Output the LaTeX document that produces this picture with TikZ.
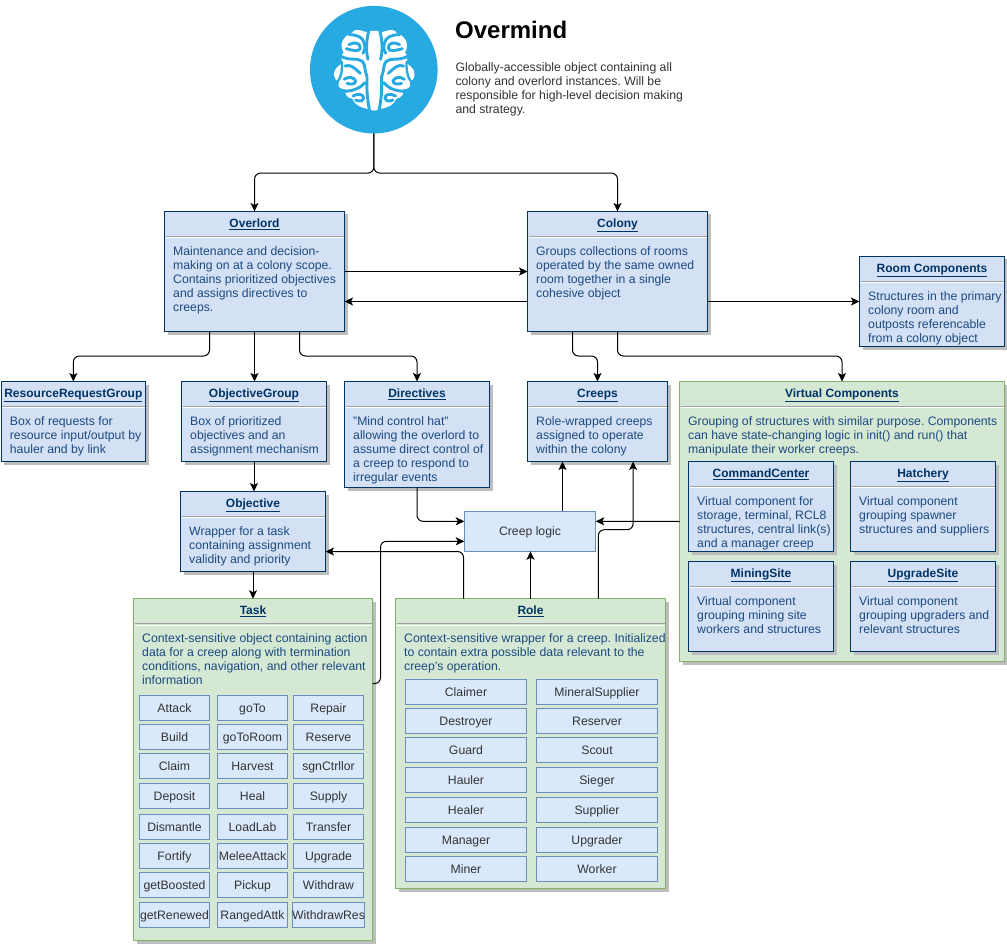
\documentclass[tikz,border=0pt]{standalone}
\usepackage{fontspec}
\setmainfont{Liberation Sans}[Ligatures=ResetAll]
\usetikzlibrary{arrows.meta,calc}
\definecolor{navy}{HTML}{003366}
\definecolor{bodyblue}{HTML}{1B4A80}
\definecolor{bluefill}{HTML}{D4E1F5}
\definecolor{greenfill}{HTML}{D5E8D4}
\definecolor{greenline}{HTML}{82B366}
\definecolor{chipfill}{HTML}{DAE8FC}
\definecolor{chipline}{HTML}{6C8EBF}
\definecolor{shadowgrey}{HTML}{BDBDBD}
\definecolor{seprule}{HTML}{A0A0A0}
\definecolor{ink}{HTML}{333333}
\definecolor{brainblue}{HTML}{27A9E1}
\newcommand{\basefont}{\fontsize{12.25}{14}\selectfont\frenchspacing}
\tikzset{
  bluecard/.style={draw=navy,fill=bluefill,line width=1pt},
  greencard/.style={draw=greenline,fill=greenfill,line width=1pt},
  cardtitle/.style={inner sep=0pt,text height=10pt,text depth=1.4pt,text=navy,font=\fontsize{12}{14}\selectfont\bfseries},
  cardbody/.style={inner sep=0pt,anchor=north west,align=left,text=bodyblue,font=\basefont},
  chipbox/.style={draw=chipline,fill=chipfill,line width=1pt,inner sep=0pt,minimum height=25.4pt,text height=10pt,text depth=1.4pt,text=ink,font=\basefont},
  conn/.style={draw=black,line width=1pt,rounded corners=6pt,-{Stealth[length=8.5pt,width=8pt,inset=2pt]}},
  brainline/.style={draw=brainblue,line width=2.9pt,line cap=round,line join=round},
}
% name, x1, y1, x2, y2, style, title, body
\newcommand{\card}[8]{%
  \fill[shadowgrey] ({#2+3},{#3+3}) rectangle ({#4+3},{#5+3});
  \node[#6,inner sep=0pt,outer sep=0pt,minimum width={(#4-#2)*1pt},minimum height={(#5-#3)*1pt}] (#1) at ({(#2+#4)/2},{(#3+#5)/2}) {};
  \node[cardtitle] (#1-title) at ({(#2+#4)/2},{#3+11.5}) {\underline{#7}};
  \draw[seprule,line width=1pt] ({#2+1},{#3+25.2}) -- ({#4-1},{#3+25.2});
  \draw[white,line width=0.8pt] ({#2+1},{#3+26.2}) -- ({#4-1},{#3+26.2});
  \node[cardbody] (#1-body) at ({#2+8.5},{#3+32.8}) {\rule{0pt}{11pt}#8};
}
% name, x centre, y centre, width, text
\newcommand{\chip}[5]{%
  \node[chipbox,minimum width={#4*1pt}] (#1) at (#2,#3) {#5};
}
\newcommand{\brainhalf}{%
  % silhouette of one half
  \fill[white] (152,33) -- (135,33) .. controls (125,42) and (118,30) .. (100,30)
     .. controls (90,30) and (84,34) .. (82,40)
     .. controls (70,42) and (54,56) .. (52,72)
     .. controls (52,84) and (54,92) .. (58,98)
     .. controls (50,104) and (48,118) .. (56,128)
     .. controls (50,134) and (46,136) .. (40,140)
     .. controls (28,150) and (26,168) .. (34,178)
     .. controls (38,184) and (42,184) .. (44,186)
     .. controls (38,198) and (46,208) .. (64,208)
     .. controls (60,222) and (68,234) .. (84,236)
     .. controls (90,254) and (110,264) .. (138,268)
     .. controls (142,273) and (148,273) .. (152,270) -- cycle;
  % channels
  \draw[brainline] (134,30) .. controls (126,60) and (124,90) .. (131,118);
  \draw[brainline] (74,44) .. controls (100,44) and (116,52) .. (120,70)
     .. controls (123,85) and (122,92) .. (116,100);
  \draw[brainline] (74,74) .. controls (88,66) and (108,66) .. (108,84)
     .. controls (108,96) and (84,92) .. (66,86);
  \draw[brainline] (48,108) .. controls (76,124) and (100,112) .. (114,124)
     .. controls (124,134) and (120,150) .. (128,170) -- (128,190);
  \draw[brainline] (62,138) .. controls (80,132) and (90,144) .. (108,160);
  \draw[brainline,line width=2.3pt] (53,126) .. controls (54,150) and (52,170) .. (38,188);
  \draw[brainline] (60,178) .. controls (72,168) and (92,172) .. (94,184)
     .. controls (92,196) and (74,192) .. (68,190);
  \draw[brainline] (56,214) .. controls (90,214) and (110,202) .. (122,188);
  \draw[brainline] (128,190) .. controls (127,215) and (130,240) .. (136,274);
  \draw[brainline] (86,228) .. controls (100,220) and (118,222) .. (118,234)
     .. controls (116,246) and (102,244) .. (94,240);
}
\begin{document}
\begin{tikzpicture}[x=1pt,y=-1pt]
\useasboundingbox (0,0) rectangle (1007,944);
\fill[white] (0,0) rectangle (1007,944);

% Overmind
\node[circle,fill=brainblue,draw=none,inner sep=0pt,outer sep=0pt,minimum size=127.6pt] (mind) at (373.8,69.7) {};
\begin{scope}[shift={(324.3,20)},x=0.3333pt,y=-0.3333pt]\brainhalf\end{scope}
\begin{scope}[shift={(424.3,20)},x=-0.3333pt,y=-0.3333pt]\brainhalf\end{scope}
\node[inner sep=0pt,anchor=west,text=black,font=\fontsize{24}{28}\selectfont\bfseries] (mindtitle) at (455,30) {Overmind};
\node[inner sep=0pt,anchor=north west,align=left,text=ink,font=\basefont] (minddesc) at (455.3,60.3) {\rule{0pt}{11pt}Globally-accessible object containing all\\colony and overlord instances. Will be\\responsible for high-level decision making\\and strategy.};

% Cards
\card{over}{164.5}{211.5}{344.5}{331.5}{bluecard}{Overlord}{Maintenance and decision-\\making on at a colony scope.\\Contains prioritized objectives\\and assigns directives to\\creeps.}
\card{colony}{527.5}{211.5}{707.5}{331.5}{bluecard}{Colony}{Groups collections of rooms\\operated by the same owned\\room together in a single\\cohesive object}
\card{room}{859.5}{256.5}{1004.5}{346.5}{bluecard}{Room Components}{Structures in the primary\\colony room and\\outposts referencable\\from a colony object}
\card{rrg}{1.2}{381.5}{145.5}{461.5}{bluecard}{ResourceRequestGroup}{Box of requests for\\resource input/output by\\hauler and by link}
\card{og}{181.5}{381.5}{326.5}{461.5}{bluecard}{ObjectiveGroup}{Box of prioritized\\objectives and an\\assignment mechanism}
\card{dir}{344.5}{381.5}{489.5}{487.5}{bluecard}{Directives}{"Mind control hat"\\allowing the overlord to\\assume direct control of\\a creep to respond to\\irregular events}
\card{creeps}{527.5}{381.5}{667.5}{461.5}{bluecard}{Creeps}{Role-wrapped creeps\\assigned to operate\\within the colony}
\card{vc}{679.5}{381.5}{1004.5}{661.5}{greencard}{Virtual Components}{Grouping of structures with similar purpose. Components\\can have state-changing logic in init() and run() that\\manipulate their worker creeps.}
\card{cc}{688.5}{461.5}{833.5}{551.5}{bluecard}{CommandCenter}{Virtual component for\\storage, terminal, RCL8\\structures, central link(s)\\and a manager creep}
\card{hatch}{850.5}{461.5}{995.5}{551.5}{bluecard}{Hatchery}{Virtual component\\grouping spawner\\structures and suppliers}
\card{mine}{688.5}{561.5}{833.5}{651.5}{bluecard}{MiningSite}{Virtual component\\grouping mining site\\workers and structures}
\card{upg}{850.5}{561.5}{995.5}{651.5}{bluecard}{UpgradeSite}{Virtual component\\grouping upgraders and\\relevant structures}
\card{obj}{180.5}{491.5}{325.5}{571.5}{bluecard}{Objective}{Wrapper for a task\\containing assignment\\validity and priority}
\card{task}{133.5}{598.7}{372.5}{940.5}{greencard}{Task}{Context-sensitive object containing action\\data for a creep along with termination\\conditions, navigation, and other relevant\\information}
\card{role}{395.5}{598.7}{665.5}{888.5}{greencard}{Role}{Context-sensitive wrapper for a creep. Initialized\\to contain extra possible data relevant to the\\creep's operation.}

% Creep logic
\node[chipbox,minimum width=131.4pt,minimum height=40pt,outer sep=0pt] (logic) at (530,531.3) {Creep logic};

% Task chips
\chip{t1}{174.5}{708}{70.4}{Attack}
\chip{t2}{174.5}{737}{70.4}{Build}
\chip{t3}{174.5}{766}{70.4}{Claim}
\chip{t4}{174.5}{796}{70.4}{Deposit}
\chip{t5}{174.5}{827}{70.4}{Dismantle}
\chip{t6}{174.5}{856}{70.4}{Fortify}
\chip{t7}{174.5}{885}{70.4}{getBoosted}
\chip{t8}{174.5}{915}{70.4}{getRenewed}
\chip{t9}{252.5}{708}{70.4}{goTo}
\chip{t10}{252.5}{737}{70.4}{goToRoom}
\chip{t11}{252.5}{766}{70.4}{Harvest}
\chip{t12}{252.5}{796}{70.4}{Heal}
\chip{t13}{252.5}{827}{70.4}{LoadLab}
\chip{t14}{252.5}{856}{70.4}{MeleeAttack}
\chip{t15}{252.5}{885}{70.4}{Pickup}
\chip{t16}{252.5}{915}{70.4}{RangedAttk}
\chip{t17}{328.5}{708}{70.4}{Repair}
\chip{t18}{328.5}{737}{70.4}{Reserve}
\chip{t19}{328.5}{766}{70.4}{sgnCtrllor}
\chip{t20}{328.5}{796}{70.4}{Supply}
\chip{t21}{328.5}{827}{70.4}{Transfer}
\chip{t22}{328.5}{856}{70.4}{Upgrade}
\chip{t23}{328.5}{885}{70.4}{Withdraw}
\chip{t24}{328.5}{915}{70.4}{WithdrawRes}

% Role chips
\chip{r1}{466}{692}{121.4}{Claimer}
\chip{r2}{466}{721}{121.4}{Destroyer}
\chip{r3}{466}{750}{121.4}{Guard}
\chip{r4}{466}{780}{121.4}{Hauler}
\chip{r5}{466}{810}{121.4}{Healer}
\chip{r6}{466}{840}{121.4}{Manager}
\chip{r7}{466}{869}{121.4}{Miner}
\chip{r8}{597}{692}{121.4}{MineralSupplier}
\chip{r9}{597}{721}{121.4}{Reserver}
\chip{r10}{597}{750}{121.4}{Scout}
\chip{r11}{597}{780}{121.4}{Sieger}
\chip{r12}{597}{810}{121.4}{Supplier}
\chip{r13}{597}{840}{121.4}{Upgrader}
\chip{r14}{597}{869}{121.4}{Worker}

% Connectors
\draw[conn] (mind.south) -- ++(0,39.6) -| (over.north);
\draw[conn] (mind.south) -- ++(0,39.6) -| (colony.north);
\draw[conn] (over.east) -- (colony.west);
\draw[conn] ([yshift=-30pt]colony.west) -- ([yshift=-30pt]over.east);
\draw[conn] ([yshift=-30pt]colony.east) -- (room.west);
\draw[conn] ([xshift=-45pt]over.south) -- ++(0,24.5) -| (rrg.north);
\draw[conn] (over.south) -- (over.south |- og.north);
\draw[conn] ([xshift=45pt]over.south) -- ++(0,24.5) -| (dir.north);
\draw[conn] ([xshift=-45pt]colony.south) -- ++(0,24.5) -| (creeps.north);
\draw[conn] (colony.south) -- ++(0,24.5) -| (vc.north);
\draw[conn] (og.south) -- (og.south |- obj.north);
\draw[conn] (obj.south) -- (obj.south |- task.north);
\draw[conn] (dir.south) |- ([yshift=10pt]logic.west);
\draw[conn] ([yshift=86pt]task.east) -- ++(8,0) |- ([yshift=-10pt]logic.west);
\draw[conn] ([xshift=-67pt]role.north) |- ([yshift=-20pt]obj.east);
\draw[conn] (role.north) -- (role.north |- logic.south);
\draw[conn] ([xshift=32.5pt]logic.north) -- ([xshift=32.5pt]logic.north |- creeps.south);
\draw[conn] ([xshift=67.8pt]role.north) -- ++(0,-69) -| ([xshift=35.6pt]creeps.south);
\draw[conn] (vc.west) -- ([yshift=10pt]logic.east);
\end{tikzpicture}
\end{document}
